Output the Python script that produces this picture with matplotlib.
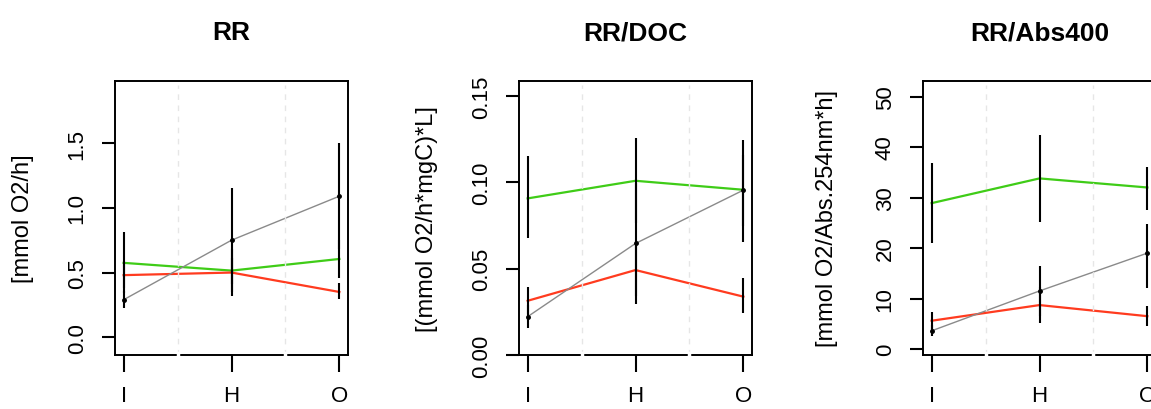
import matplotlib
matplotlib.use("Agg")
import matplotlib.pyplot as plt

plt.rcParams['font.family'] = ['Liberation Sans', 'DejaVu Sans']

sites = ['I', 'H', 'O']
titles = ['RR', 'RR/DOC', 'RR/Abs400']
ylabels = ['[mmol O2/h]', '[(mmol O2/h*mgC)*L]', '[mmol O2/Abs.254nm*h]']

# respiration rate
rr_gray = [0.29, 0.75, 1.09]
rr_gray_lo = [0.224, 0.35, 0.68]
rr_gray_hi = [0.356, 1.15, 1.50]
rr_green = [0.575, 0.515, 0.605]
rr_green_lo = [0.34, 0.415, 0.46]
rr_green_hi = [0.81, 0.615, 0.75]
rr_red = [0.48, 0.50, 0.35]
rr_red_lo = [0.38, 0.32, 0.296]
rr_red_hi = [0.58, 0.68, 0.42]

# respiration per DOC
doc_gray = [0.0222, 0.0646, 0.0955]
doc_gray_lo = [0.0154, 0.0295, 0.0652]
doc_gray_hi = [0.029, 0.0996, 0.1244]
doc_green = [0.0907, 0.1009, 0.0957]
doc_green_lo = [0.0675, 0.0764, 0.075]
doc_green_hi = [0.1153, 0.1254, 0.116]
doc_red = [0.0314, 0.0492, 0.0338]
doc_red_lo = [0.0236, 0.034, 0.0243]
doc_red_hi = [0.0392, 0.064, 0.0444]

# respiration per absorbance
abs_gray = [3.6, 11.5, 19.0]
abs_gray_lo = [2.5, 6.5, 12.0]
abs_gray_hi = [4.7, 16.5, 24.8]
abs_green = [28.9, 33.8, 32.0]
abs_green_lo = [21.1, 25.1, 27.6]
abs_green_hi = [36.8, 42.4, 36.0]
abs_red = [5.6, 8.7, 6.5]
abs_red_lo = [3.8, 5.1, 4.6]
abs_red_hi = [7.4, 12.3, 8.5]

panels = [
    (rr_gray, rr_gray_lo, rr_gray_hi, rr_green, rr_green_lo, rr_green_hi,
     rr_red, rr_red_lo, rr_red_hi),
    (doc_gray, doc_gray_lo, doc_gray_hi, doc_green, doc_green_lo, doc_green_hi,
     doc_red, doc_red_lo, doc_red_hi),
    (abs_gray, abs_gray_lo, abs_gray_hi, abs_green, abs_green_lo, abs_green_hi,
     abs_red, abs_red_lo, abs_red_hi),
]
ylims = [(-0.137, 1.98), (0, 0.1587), (-1.19, 53.1)]
yticks = [[0.0, 0.5, 1.0, 1.5], [0.00, 0.05, 0.10, 0.15], [0, 10, 20, 30, 40, 50]]
ytick_fmt = ['{:.1f}', '{:.2f}', '{:.0f}']

W, H = 1151, 410
fig = plt.figure(figsize=(W / 100, H / 100), dpi=100)

lefts = [115, 519, 923]
ax_w, top, bottom = 233, 82, 356
label_off = [92, 92, 96]

green = '#3fcc17'
red = '#ff3b1f'
gray = '#8a8a8a'
x = [1, 2, 3]

for i, ax_left in enumerate(lefts):
    ax = fig.add_axes([ax_left / W, (H - bottom) / H, ax_w / W, (bottom - top) / H])
    g, glo, ghi, gr, grlo, grhi, r, rlo, rhi = panels[i]

    ax.plot(x, gr, color=green, lw=1.6, zorder=3)
    ax.plot(x, r, color=red, lw=1.6, zorder=3)
    ax.plot(x, g, color=gray, lw=1.0, zorder=3)
    for lo, hi in [(glo, ghi), (grlo, grhi), (rlo, rhi)]:
        ax.vlines(x, lo, hi, color='black', lw=1.5, zorder=4)
    ax.plot(x, g, 'o', color='black', ms=2.5, zorder=5)

    # dashed separators between sites
    for xv in [1.5, 2.5]:
        ax.axvline(xv, ymin=0, ymax=0.985, color='#e6e6e6', lw=1.0,
                   ls=(0, (4, 4)), zorder=6)
        ax.axvline(xv, ymin=-0.004, ymax=0.006, color='white', lw=2.5,
                   zorder=7, clip_on=False)

    ax.set_xlim(0.92, 3.08)
    ax.set_ylim(*ylims[i])
    ax.set_xticks(x)
    ax.set_xticklabels(sites)
    ax.set_yticks(yticks[i])
    ax.set_yticklabels([ytick_fmt[i].format(v) for v in yticks[i]],
                       rotation=90, va='center')
    ax.tick_params(axis='x', length=12, width=1.5, pad=9.5, labelsize=16,
                   colors='black')
    ax.tick_params(axis='y', length=9.7, width=1.5, pad=10, labelsize=16)
    for sp in ax.spines.values():
        sp.set_linewidth(1.4)

    ax.set_ylabel(ylabels[i], fontsize=17, va='center')
    ax.yaxis.set_label_coords(-label_off[i] / ax_w, 0.5)
    ax.set_title(titles[i], fontsize=19, fontweight='bold', pad=30)

fig.savefig('out.png', dpi=100)
